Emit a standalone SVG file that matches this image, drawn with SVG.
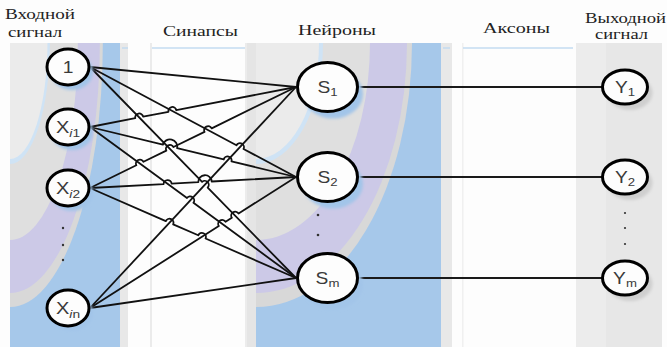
<svg xmlns="http://www.w3.org/2000/svg" xmlns:xlink="http://www.w3.org/1999/xlink" width="667" height="347" viewBox="0 0 667 347">
  <style>
    .hdr { font-family: "Liberation Serif", "DejaVu Serif", serif; font-size: 14.5px; font-weight: normal; fill: #222; }
    .lbl { font-family: "Liberation Sans", Arial, sans-serif; font-size: 16px; fill: #3a3a3a; }
    .sub { font-size: 11px; }
    .node { fill: #fdfdfd; stroke: #000; stroke-width: 3; }
    .shadow-blue { fill: #a2c5e9; filter: url(#soft); }
    .shadow-gray { fill: #cfcfcf; filter: url(#soft); }
    .wire { fill: none; stroke: #111; stroke-width: 1.8; stroke-linejoin: round; }
    .axon { fill: none; stroke: #1a1a1a; stroke-width: 2; }
    .dot { fill: #333; }
  </style>
  <defs>
    <filter id="soft" x="-30%" y="-30%" width="160%" height="160%">
      <feGaussianBlur stdDeviation="1.5"/>
    </filter>
    <!-- curved decorative bands, centred on a panel's top-left corner -->
    <g id="bands">
      <ellipse rx="156" ry="264" fill="#d8d8d8"/>
      <ellipse rx="151" ry="250" fill="#ccc9e7"/>
      <ellipse rx="114" ry="197" fill="#dfdfdf"/>
      <ellipse rx="67" ry="121" fill="#cfe3f5"/>
      <ellipse rx="63" ry="116" fill="#ebebeb"/>
    </g>
    <clipPath id="clipIn"><rect x="10" y="43" width="110" height="304"/></clipPath>
    <clipPath id="clipNeu"><rect x="256" y="43" width="185" height="304"/></clipPath>
  </defs>

  <!-- page -->
  <rect width="667" height="347" fill="#fdfdfd"/>

  <!-- column backgrounds -->
  <g id="background">
    <rect x="10" y="43" width="110" height="304" fill="#a6c8ea"/>
    <g clip-path="url(#clipIn)">
      <use xlink:href="#bands" transform="translate(10,43) scale(0.595,1)"/>
    </g>
    <rect x="120" y="43" width="8" height="304" fill="#e8e8e8"/>
    <rect x="150" y="43" width="2" height="304" fill="#ebebeb"/>
    <rect x="245" y="43" width="2" height="304" fill="#ececec"/>
    <rect x="247" y="43" width="9" height="304" fill="#e5e5e5"/>
    <line x1="122" y1="48" x2="128" y2="48" stroke="#c3dbf1" stroke-width="1.5"/>
    <line x1="152" y1="48" x2="245" y2="48" stroke="#c3dbf1" stroke-width="1.5"/>

    <rect x="256" y="43" width="185" height="304" fill="#a6c8ea"/>
    <g clip-path="url(#clipNeu)">
      <use xlink:href="#bands" transform="translate(256,43)"/>
    </g>

    <rect x="441" y="43" width="11" height="304" fill="#e8e8e8"/>
    <rect x="462" y="43" width="1.5" height="304" fill="#f0f0f0"/>
    <line x1="443" y1="48" x2="450" y2="48" stroke="#c3dbf1" stroke-width="1.5"/>
    <line x1="463" y1="48" x2="573" y2="48" stroke="#c3dbf1" stroke-width="1.5"/>
    <rect x="576" y="43" width="86" height="304" fill="#e7e7e7"/>
    <rect x="576" y="43" width="30" height="304" fill="#ececec"/>
  </g>

  <!-- column headings -->
  <g id="headings">
    <text class="hdr" x="5" y="19" textLength="70" lengthAdjust="spacingAndGlyphs">Входной</text>
    <text class="hdr" x="8" y="37" textLength="54" lengthAdjust="spacingAndGlyphs">сигнал</text>
    <text class="hdr" x="163" y="36" textLength="75" lengthAdjust="spacingAndGlyphs">Синапсы</text>
    <text class="hdr" x="298" y="35" textLength="78" lengthAdjust="spacingAndGlyphs">Нейроны</text>
    <text class="hdr" x="483" y="33" textLength="67" lengthAdjust="spacingAndGlyphs">Аксоны</text>
    <text class="hdr" x="585" y="23" textLength="81" lengthAdjust="spacingAndGlyphs">Выходной</text>
    <text class="hdr" x="595" y="39" textLength="53" lengthAdjust="spacingAndGlyphs">сигнал</text>
  </g>

  <!-- connectors: synapses (with line jumps at crossings) and axons -->
  <g id="connectors">
    <path class="wire" d="M90,67 L296,87"/>
    <path class="wire" d="M90,67 L236.47,145.22 A4,4 0 0 1 243.53,148.98 L296,177"/>
    <path class="wire" d="M90,67 L202.11,181.83 A4,4 0 0 1 207.69,187.55 L296,278"/>
    <path class="wire" d="M90,127 L135.27,118.21 A4,4 0 0 1 143.13,116.69 L168.47,111.76 A4,4 0 0 1 176.33,110.24 L296,87"/>
    <path class="wire" d="M90,127 L162.91,144.70 A7.3,7.3 0 0 1 177.09,148.14 L223.71,159.46 A4,4 0 0 1 231.49,161.34 L296,177"/>
    <path class="wire" d="M90,127 L186.97,198.09 A4,4 0 0 1 193.43,202.81 L296,278"/>
    <path class="wire" d="M90,188 L136.31,165.29 A4,4 0 0 1 143.49,161.77 L166.31,150.58 A4,4 0 0 1 173.49,147.06 L204.51,131.86 A4,4 0 0 1 211.69,128.34 L296,87"/>
    <path class="wire" d="M90,188 L163.61,184.07 A4,4 0 0 1 171.59,183.65 L198.31,182.22 A6.7,6.7 0 0 1 211.69,181.50 L296,177"/>
    <path class="wire" d="M90,188 L165.83,221.13 A4,4 0 0 1 173.17,224.33 L198.23,235.29 A4,4 0 0 1 205.57,238.49 L296,278"/>
    <path class="wire" d="M90,308 L296,87"/>
    <path class="wire" d="M90,308 L218.82,226.08 A4,4 0 0 1 225.58,221.78 L231.82,217.82 A4,4 0 0 1 238.58,213.52 L296,177"/>
    <path class="wire" d="M90,308 L296,278"/>

    <line class="axon" x1="358" y1="87" x2="602" y2="87"/>
    <line class="axon" x1="358" y1="177" x2="602" y2="177"/>
    <line class="axon" x1="358" y1="278" x2="602" y2="278"/>
  </g>

  <!-- input nodes -->
  <g id="in-1">
    <ellipse class="shadow-blue" cx="72" cy="72" rx="21" ry="18"/>
    <ellipse class="node" cx="68" cy="67" rx="21" ry="18"/>
    <text class="lbl" transform="translate(68,73) scale(1.2,1)" text-anchor="middle">1</text>
  </g>
  <g id="in-i1">
    <ellipse class="shadow-blue" cx="72" cy="132" rx="21" ry="18"/>
    <ellipse class="node" cx="68" cy="127" rx="21" ry="18"/>
    <text class="lbl" transform="translate(68,133) scale(1.25,1)" text-anchor="middle">X<tspan class="sub" dy="4" font-style="italic">i</tspan><tspan class="sub">1</tspan></text>
  </g>
  <g id="in-i2">
    <ellipse class="shadow-blue" cx="72" cy="193" rx="21" ry="18"/>
    <ellipse class="node" cx="68" cy="188" rx="21" ry="18"/>
    <text class="lbl" transform="translate(68,194) scale(1.25,1)" text-anchor="middle">X<tspan class="sub" dy="4" font-style="italic">i</tspan><tspan class="sub">2</tspan></text>
  </g>
  <g id="in-dots">
    <circle class="dot" cx="63" cy="228" r="1.2"/>
    <circle class="dot" cx="63" cy="245" r="1.2"/>
    <circle class="dot" cx="63" cy="260" r="1.2"/>
  </g>
  <g id="in-in">
    <ellipse class="shadow-blue" cx="72" cy="313" rx="21" ry="18"/>
    <ellipse class="node" cx="68" cy="308" rx="21" ry="18"/>
    <text class="lbl" transform="translate(68,314) scale(1.25,1)" text-anchor="middle">X<tspan class="sub" dy="4" font-style="italic">i</tspan><tspan class="sub">n</tspan></text>
  </g>

  <!-- neurons -->
  <g id="neuron-1">
    <ellipse class="shadow-blue" cx="333" cy="94" rx="30" ry="24.5"/>
    <ellipse class="node" cx="327.5" cy="87" rx="30" ry="24.5"/>
    <text class="lbl" transform="translate(327.5,93) scale(1.2,1)" text-anchor="middle">S<tspan class="sub" dy="3">1</tspan></text>
  </g>
  <g id="neuron-2">
    <ellipse class="shadow-blue" cx="333" cy="184" rx="30" ry="24.5"/>
    <ellipse class="node" cx="327.5" cy="177" rx="30" ry="24.5"/>
    <text class="lbl" transform="translate(327.5,183) scale(1.2,1)" text-anchor="middle">S<tspan class="sub" dy="3">2</tspan></text>
  </g>
  <g id="neuron-dots">
    <circle class="dot" cx="318" cy="215" r="1.3"/>
    <circle class="dot" cx="318" cy="235" r="1.3"/>
  </g>
  <g id="neuron-m">
    <ellipse class="shadow-blue" cx="333" cy="285" rx="30" ry="24.5"/>
    <ellipse class="node" cx="327.5" cy="278" rx="30" ry="24.5"/>
    <text class="lbl" transform="translate(327.5,284) scale(1.2,1)" text-anchor="middle">S<tspan class="sub" dy="3">m</tspan></text>
  </g>

  <!-- outputs -->
  <g id="out-1">
    <ellipse class="shadow-gray" cx="630" cy="93" rx="22.5" ry="17"/>
    <ellipse class="node" cx="625" cy="87" rx="22.5" ry="17"/>
    <text class="lbl" transform="translate(625,93) scale(1.2,1)" text-anchor="middle">Y<tspan class="sub" dy="3">1</tspan></text>
  </g>
  <g id="out-2">
    <ellipse class="shadow-gray" cx="630" cy="183" rx="22.5" ry="17"/>
    <ellipse class="node" cx="625" cy="177" rx="22.5" ry="17"/>
    <text class="lbl" transform="translate(625,183) scale(1.2,1)" text-anchor="middle">Y<tspan class="sub" dy="3">2</tspan></text>
  </g>
  <g id="out-dots">
    <circle class="dot" cx="625" cy="213" r="1.1"/>
    <circle class="dot" cx="625" cy="228" r="1.1"/>
    <circle class="dot" cx="625" cy="244" r="1.1"/>
  </g>
  <g id="out-m">
    <ellipse class="shadow-gray" cx="630" cy="284" rx="22.5" ry="17"/>
    <ellipse class="node" cx="625" cy="278" rx="22.5" ry="17"/>
    <text class="lbl" transform="translate(625,284) scale(1.2,1)" text-anchor="middle">Y<tspan class="sub" dy="3">m</tspan></text>
  </g>
</svg>
